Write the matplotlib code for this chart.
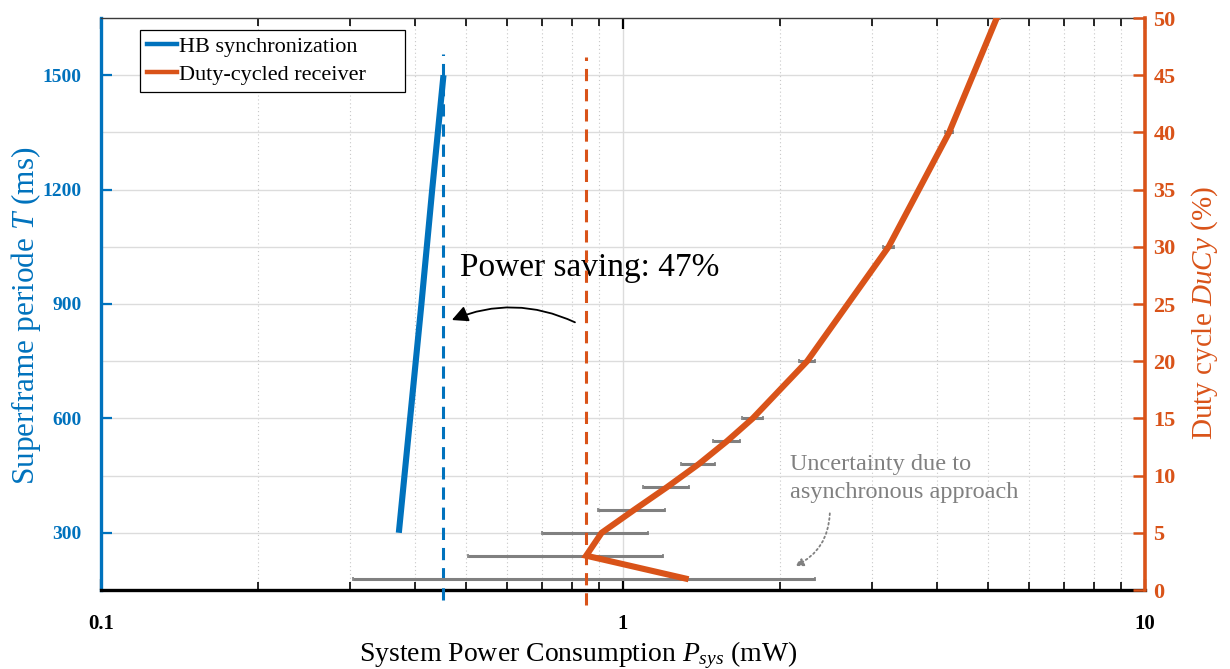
import numpy as np
import matplotlib
matplotlib.use("Agg")
import matplotlib.pyplot as plt
from matplotlib.lines import Line2D
from matplotlib.ticker import FixedLocator, NullFormatter

plt.rcParams['font.family'] = ['Liberation Serif', 'DejaVu Serif']
plt.rcParams['mathtext.fontset'] = 'custom'
plt.rcParams['mathtext.rm'] = 'Liberation Serif'
plt.rcParams['mathtext.it'] = 'Liberation Serif:italic'
plt.rcParams['mathtext.bf'] = 'Liberation Serif:bold'

BLUE = '#0072BD'
ORANGE = '#D95319'
GRAY = '#808080'

# HB synchronization: superframe period (ms) vs. system power (mW)
hb_period = [300, 600, 900, 1200, 1500]
hb_power = [0.372, 0.391, 0.411, 0.431, 0.453]

# Duty-cycled receiver: duty cycle (%) vs. mean system power (mW) and spread
dc_duty = [1, 3, 5, 7, 9, 11, 13, 15, 20, 30, 40, 50]
dc_power = [1.318, 0.850, 0.910, 1.050, 1.215, 1.396, 1.581, 1.772, 2.253, 3.227, 4.215, 5.200]
dc_spread = [1.014, 0.345, 0.209, 0.154, 0.123, 0.105, 0.094, 0.082, 0.079, 0.078, 0.075, 0.070]

x_ticks = [0.1, 1, 10]
x_ticklabels = ['0.1', '1', '10']
period_ticks = [300, 600, 900, 1200, 1500]
duty_ticks = list(range(0, 55, 5))

fig = plt.figure(figsize=(12.3, 6.69), dpi=100)
ax1 = fig.add_axes([101 / 1230, 1 - 590 / 669, 1044 / 1230, 572 / 669])
ax2 = ax1.twinx()

# ---- left axis (period) ----
ax1.set_xscale('log')
ax1.set_xlim(0.1, 10)
ax1.set_ylim(150, 1650)
ax1.set_axisbelow(True)

ax1.set_xticks(x_ticks)
ax1.set_xticklabels(x_ticklabels, fontweight='bold', fontsize=15)
ax1.xaxis.set_minor_locator(FixedLocator(
    [m * d for d in (0.1, 1) for m in range(2, 10)]))
ax1.xaxis.set_minor_formatter(NullFormatter())
ax1.tick_params(axis='x', which='major', direction='in', length=8, width=1.6,
                top=True, bottom=True, pad=17, colors='black')
ax1.tick_params(axis='x', which='minor', direction='in', length=6, width=1.2,
                top=True, bottom=True)

ax1.set_yticks(period_ticks)
ax1.set_yticklabels([str(t) for t in period_ticks], fontweight='bold', fontsize=14)
ax1.yaxis.set_minor_locator(FixedLocator([450, 750, 1050, 1350]))
ax1.tick_params(axis='y', which='major', direction='in', length=8, width=1.6,
                colors=BLUE, pad=14, right=False)
ax1.tick_params(axis='y', which='minor', length=0, right=False)

ax1.grid(True, axis='y', which='both', color='#dcdcdc', lw=1.0, ls='-')
ax1.grid(True, axis='x', which='major', color='#dcdcdc', lw=1.0, ls='-')
ax1.grid(True, axis='x', which='minor', color='#c8c8c8', lw=0.8, ls=(0, (1, 2.5)))

ax1.spines['right'].set_visible(False)
ax1.spines['left'].set_color(BLUE)
ax1.spines['left'].set_linewidth(2.4)
ax1.spines['bottom'].set_color('black')
ax1.spines['bottom'].set_linewidth(2.4)
ax1.spines['top'].set_color('#3a3a3a')
ax1.spines['top'].set_linewidth(1.0)

hb_line, = ax1.plot(hb_power, hb_period, color=BLUE, lw=4.4,
                    solid_capstyle='butt', zorder=3)
hb_best = max(hb_power)
ax1.plot([hb_best, hb_best], [124, 1555], color=BLUE, lw=2.2,
         dashes=(4, 2.6), clip_on=False, zorder=4)

ax1.set_xlabel(r'System Power Consumption $P_{sys}$ (mW)', fontsize=20)
ax1.xaxis.set_label_coords(0.457, -0.086)
ax1.set_ylabel(r'Superframe periode $T$ (ms)', fontsize=22.5, color=BLUE)
ax1.yaxis.set_label_coords(-0.056, 0.479)

# ---- right axis (duty cycle) ----
ax2.set_ylim(0, 50)
ax2.set_yticks(duty_ticks)
ax2.set_yticklabels([str(t) for t in duty_ticks], fontweight='bold', fontsize=16)
ax2.tick_params(axis='y', direction='in', length=9, width=1.8, colors=ORANGE, pad=6)
for side in ('left', 'top', 'bottom'):
    ax2.spines[side].set_visible(False)
ax2.spines['right'].set_color(ORANGE)
ax2.spines['right'].set_linewidth(2.6)

ax2.errorbar(dc_power, dc_duty, xerr=dc_spread, fmt='none', ecolor=GRAY,
             elinewidth=2.2, capsize=1.5, capthick=1.2, zorder=2)
dc_line, = ax2.plot(dc_power, dc_duty, color=ORANGE, lw=4.4,
                    solid_joinstyle='miter', zorder=3)
dc_best = min(dc_power)
ax2.plot([dc_best, dc_best], [-1.3, 46.6], color=ORANGE, lw=2.2,
         dashes=(4, 2.6), clip_on=False, zorder=4)

ax2.set_ylabel(r'Duty cycle $DuCy$ (%)', fontsize=21, color=ORANGE, rotation=90)
ax2.yaxis.set_label_coords(1.042, 0.485)

# ---- annotations ----
saving = round(100 * (1 - hb_best / dc_best))
ax2.text(0.487, 28.2, f'Power saving: {saving}%', fontsize=24, va='center', ha='left')
ax2.annotate('', xy=(0.470, 23.6), xytext=(0.809, 23.4),
             arrowprops=dict(arrowstyle='-|>', color='black', lw=1.3,
                             mutation_scale=24, shrinkA=0, shrinkB=0,
                             connectionstyle='arc3,rad=0.22'))

ax2.text(2.09, 11.85, 'Uncertainty due to\nasynchronous approach', fontsize=17.5,
         color=GRAY, va='top', ha='left', linespacing=1.38)
ax2.annotate('', xy=(2.136, 2.1), xytext=(2.49, 6.7),
             arrowprops=dict(arrowstyle='-|>', color=GRAY, lw=1.3, ls=':',
                             mutation_scale=12, shrinkA=0, shrinkB=0,
                             connectionstyle='arc3,rad=-0.3'))

# ---- legend ----
handles = [Line2D([], [], color=BLUE, lw=3.2), Line2D([], [], color=ORANGE, lw=3.2)]
leg = ax2.legend(handles, ['HB synchronization', 'Duty-cycled receiver'],
                 loc='upper left', bbox_to_anchor=(0.0374, 0.879, 0.254, 0.1),
                 mode='expand', borderaxespad=0, fontsize=16, frameon=True,
                 fancybox=False, edgecolor='black', framealpha=1,
                 handlelength=1.35, handletextpad=0.12, labelspacing=0.32,
                 borderpad=0.3)
leg.get_frame().set_linewidth(0.9)

fig.savefig('out.png', dpi=100)
